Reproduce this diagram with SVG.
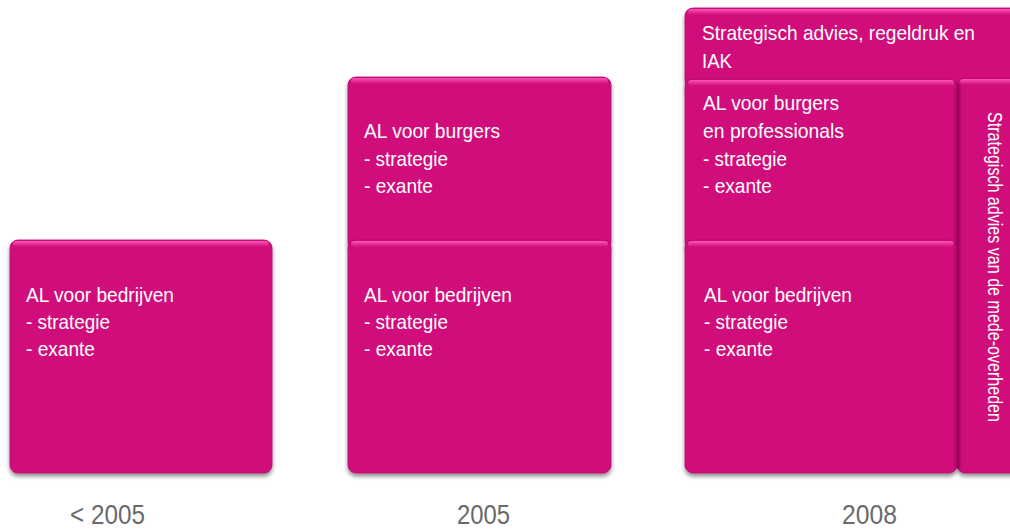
<svg xmlns="http://www.w3.org/2000/svg" width="1010" height="530" viewBox="0 0 1010 530">
  <defs>
    <filter id="shadow" x="-10%" y="-10%" width="120%" height="120%">
      <feDropShadow dx="0" dy="3" stdDeviation="2" flood-color="#000" flood-opacity="0.45"/>
    </filter>
    <linearGradient id="gloss" x1="0" y1="0" x2="0" y2="1">
      <stop offset="0" stop-color="#ff5ab8" stop-opacity="0.9"/>
      <stop offset="1" stop-color="#ff5ab8" stop-opacity="0"/>
    </linearGradient>
    <linearGradient id="edge" x1="0" y1="0" x2="1" y2="0">
      <stop offset="0" stop-color="#7a0048" stop-opacity="0.85"/>
      <stop offset="1" stop-color="#7a0048" stop-opacity="0"/>
    </linearGradient>
  </defs>
  <style>
    .box { fill: #d1097c; stroke: #b8086d; stroke-width: 0.8; filter: url(#shadow); }
    .gloss { fill: url(#gloss); }
    .lbl { font-family: "Liberation Sans", Arial, sans-serif; font-size: 21px; fill: #ffffff; }
    .year { font-family: "Liberation Sans", Arial, sans-serif; font-size: 27px; fill: #6a6a6a; }
  </style>

  <!-- column: < 2005 -->
  <g id="bedrijven-pre2005">
    <rect class="box" x="10" y="240" width="262" height="233" rx="8"/>
    <rect class="gloss" x="13" y="241" width="256" height="6" rx="3"/>
    <text class="lbl" x="26" y="302" textLength="148" lengthAdjust="spacingAndGlyphs">AL voor bedrijven</text>
    <text class="lbl" x="26" y="329" textLength="84" lengthAdjust="spacingAndGlyphs">- strategie</text>
    <text class="lbl" x="26" y="356" textLength="69" lengthAdjust="spacingAndGlyphs">- exante</text>
  </g>

  <!-- column: 2005 -->
  <g id="burgers-2005">
    <rect class="box" x="348" y="77" width="263" height="173" rx="8"/>
    <rect class="gloss" x="351" y="78" width="257" height="6" rx="3"/>
    <text class="lbl" x="364" y="138" textLength="136" lengthAdjust="spacingAndGlyphs">AL voor burgers</text>
    <text class="lbl" x="364" y="166" textLength="84" lengthAdjust="spacingAndGlyphs">- strategie</text>
    <text class="lbl" x="364" y="193" textLength="69" lengthAdjust="spacingAndGlyphs">- exante</text>
  </g>
  <g id="bedrijven-2005">
    <rect class="box" x="348" y="240" width="263" height="233" rx="8"/>
    <rect class="gloss" x="351" y="241" width="257" height="6" rx="3"/>
    <text class="lbl" x="364" y="302" textLength="148" lengthAdjust="spacingAndGlyphs">AL voor bedrijven</text>
    <text class="lbl" x="364" y="329" textLength="84" lengthAdjust="spacingAndGlyphs">- strategie</text>
    <text class="lbl" x="364" y="356" textLength="69" lengthAdjust="spacingAndGlyphs">- exante</text>
  </g>

  <!-- column: 2008 -->
  <g id="regeldruk-2008">
    <rect class="box" x="685" y="8" width="345" height="80" rx="8"/>
    <rect class="gloss" x="688" y="9" width="340" height="6" rx="3"/>
    <text class="lbl" x="702" y="40" textLength="273" lengthAdjust="spacingAndGlyphs">Strategisch advies, regeldruk en</text>
    <text class="lbl" x="702" y="68" textLength="30" lengthAdjust="spacingAndGlyphs">IAK</text>
  </g>
  <g id="burgers-2008">
    <rect class="box" x="685" y="79" width="272" height="171" rx="8"/>
    <rect class="gloss" x="688" y="80" width="266" height="6" rx="3"/>
    <text class="lbl" x="703" y="110" textLength="136" lengthAdjust="spacingAndGlyphs">AL voor burgers</text>
    <text class="lbl" x="703" y="138" textLength="141" lengthAdjust="spacingAndGlyphs">en professionals</text>
    <text class="lbl" x="703" y="166" textLength="84" lengthAdjust="spacingAndGlyphs">- strategie</text>
    <text class="lbl" x="703" y="193" textLength="69" lengthAdjust="spacingAndGlyphs">- exante</text>
  </g>
  <g id="bedrijven-2008">
    <rect class="box" x="685" y="240" width="272" height="233" rx="8"/>
    <rect class="gloss" x="688" y="241" width="266" height="6" rx="3"/>
    <text class="lbl" x="704" y="302" textLength="148" lengthAdjust="spacingAndGlyphs">AL voor bedrijven</text>
    <text class="lbl" x="704" y="329" textLength="84" lengthAdjust="spacingAndGlyphs">- strategie</text>
    <text class="lbl" x="704" y="356" textLength="69" lengthAdjust="spacingAndGlyphs">- exante</text>
  </g>
  <g id="mede-overheden-2008">
    <rect class="box" x="957" y="78" width="70" height="395" rx="8"/>
    <rect class="gloss" x="960" y="79" width="66" height="6" rx="3"/>
    <rect fill="url(#edge)" x="957" y="84" width="5" height="385"/>
    <text class="lbl" transform="translate(988,112) rotate(90)" textLength="310" lengthAdjust="spacingAndGlyphs">Strategisch advies van de mede-overheden</text>
  </g>

  <!-- period labels -->
  <g id="years">
    <text class="year" x="70" y="524" textLength="75" lengthAdjust="spacingAndGlyphs">&lt; 2005</text>
    <text class="year" x="457" y="524" textLength="53" lengthAdjust="spacingAndGlyphs">2005</text>
    <text class="year" x="842" y="524" textLength="55" lengthAdjust="spacingAndGlyphs">2008</text>
  </g>
</svg>
